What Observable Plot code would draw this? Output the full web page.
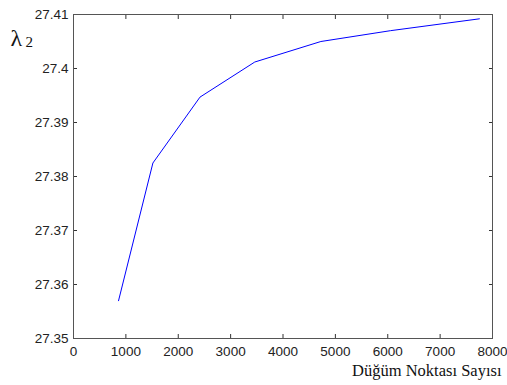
<!DOCTYPE html>
<html>
<head>
<meta charset="utf-8">
<script src="https://cdn.jsdelivr.net/npm/d3@7"></script>
<script src="https://cdn.jsdelivr.net/npm/@observablehq/plot@0.6"></script>
<style>
  html, body { margin: 0; padding: 0; background: #fff; }
  #chart svg { display: block; }
</style>
</head>
<body>
<div id="chart"></div>
<script>
const nodeCounts = [860, 1516, 2415, 3461, 4723, 6050, 7750];
const lambda2 = [27.3570, 27.3825, 27.3947, 27.4012, 27.4050, 27.4070, 27.4092];
const xTicks = [0, 1000, 2000, 3000, 4000, 5000, 6000, 7000, 8000];
const yTicks = [27.35, 27.36, 27.37, 27.38, 27.39, 27.40, 27.41];
const yTickLabels = ["27.35", "27.36", "27.37", "27.38", "27.39", "27.4", "27.41"];
const xTitle = "Düğüm Noktası Sayısı";
const yTitle = "λ";
const yTitleSub = "2";

const data = nodeCounts.map((n, i) => ({n, v: lambda2[i]}));
const yLabelOf = v => yTickLabels[yTicks.findIndex(t => Math.abs(t - v) < 1e-9)];

const chart = Plot.plot({
  width: 507,
  height: 385,
  marginLeft: 73,
  marginRight: 15,
  marginTop: 14,
  marginBottom: 47,
  style: {fontFamily: "'Liberation Sans', Arial, sans-serif", fontSize: "13.5px", color: "#222", background: "#fff"},
  x: {domain: [0, 8000]},
  y: {domain: [27.35, 27.41]},
  marks: [
    Plot.axisX({anchor: "bottom", ticks: xTicks, tickSize: -4, tickPadding: 12, label: null, tickFormat: d => String(d), stroke: "#333"}),
    Plot.axisX({anchor: "top", ticks: xTicks, tickSize: -4, label: null, tickFormat: () => "", stroke: "#333"}),
    Plot.axisY({anchor: "left", ticks: yTicks, tickSize: -4, tickPadding: 9, label: null, tickFormat: yLabelOf, stroke: "#333"}),
    Plot.axisY({anchor: "right", ticks: yTicks, tickSize: -4, label: null, tickFormat: () => "", stroke: "#333"}),
    Plot.frame({stroke: "#555", strokeWidth: 1}),
    Plot.line(data, {x: "n", y: "v", stroke: "#0000ff", strokeWidth: 1}),
    Plot.text([xTitle], {frameAnchor: "bottom-right", textAnchor: "end", lineAnchor: "bottom", dx: 9, dy: 37, fontFamily: "'Liberation Serif', 'Times New Roman', serif", fontSize: 16.5, fill: "#111"}),
    Plot.text([yTitle], {frameAnchor: "top-left", textAnchor: "start", lineAnchor: "bottom", dx: -63, dy: 31, fontFamily: "'Liberation Serif', 'Times New Roman', serif", fontSize: 24, fill: "#111"}),
    Plot.text([yTitleSub], {frameAnchor: "top-left", textAnchor: "start", lineAnchor: "bottom", dx: -48, dy: 32, fontFamily: "'Liberation Serif', 'Times New Roman', serif", fontSize: 15, fill: "#111"})
  ]
});
document.getElementById("chart").appendChild(chart);
</script>
</body>
</html>
